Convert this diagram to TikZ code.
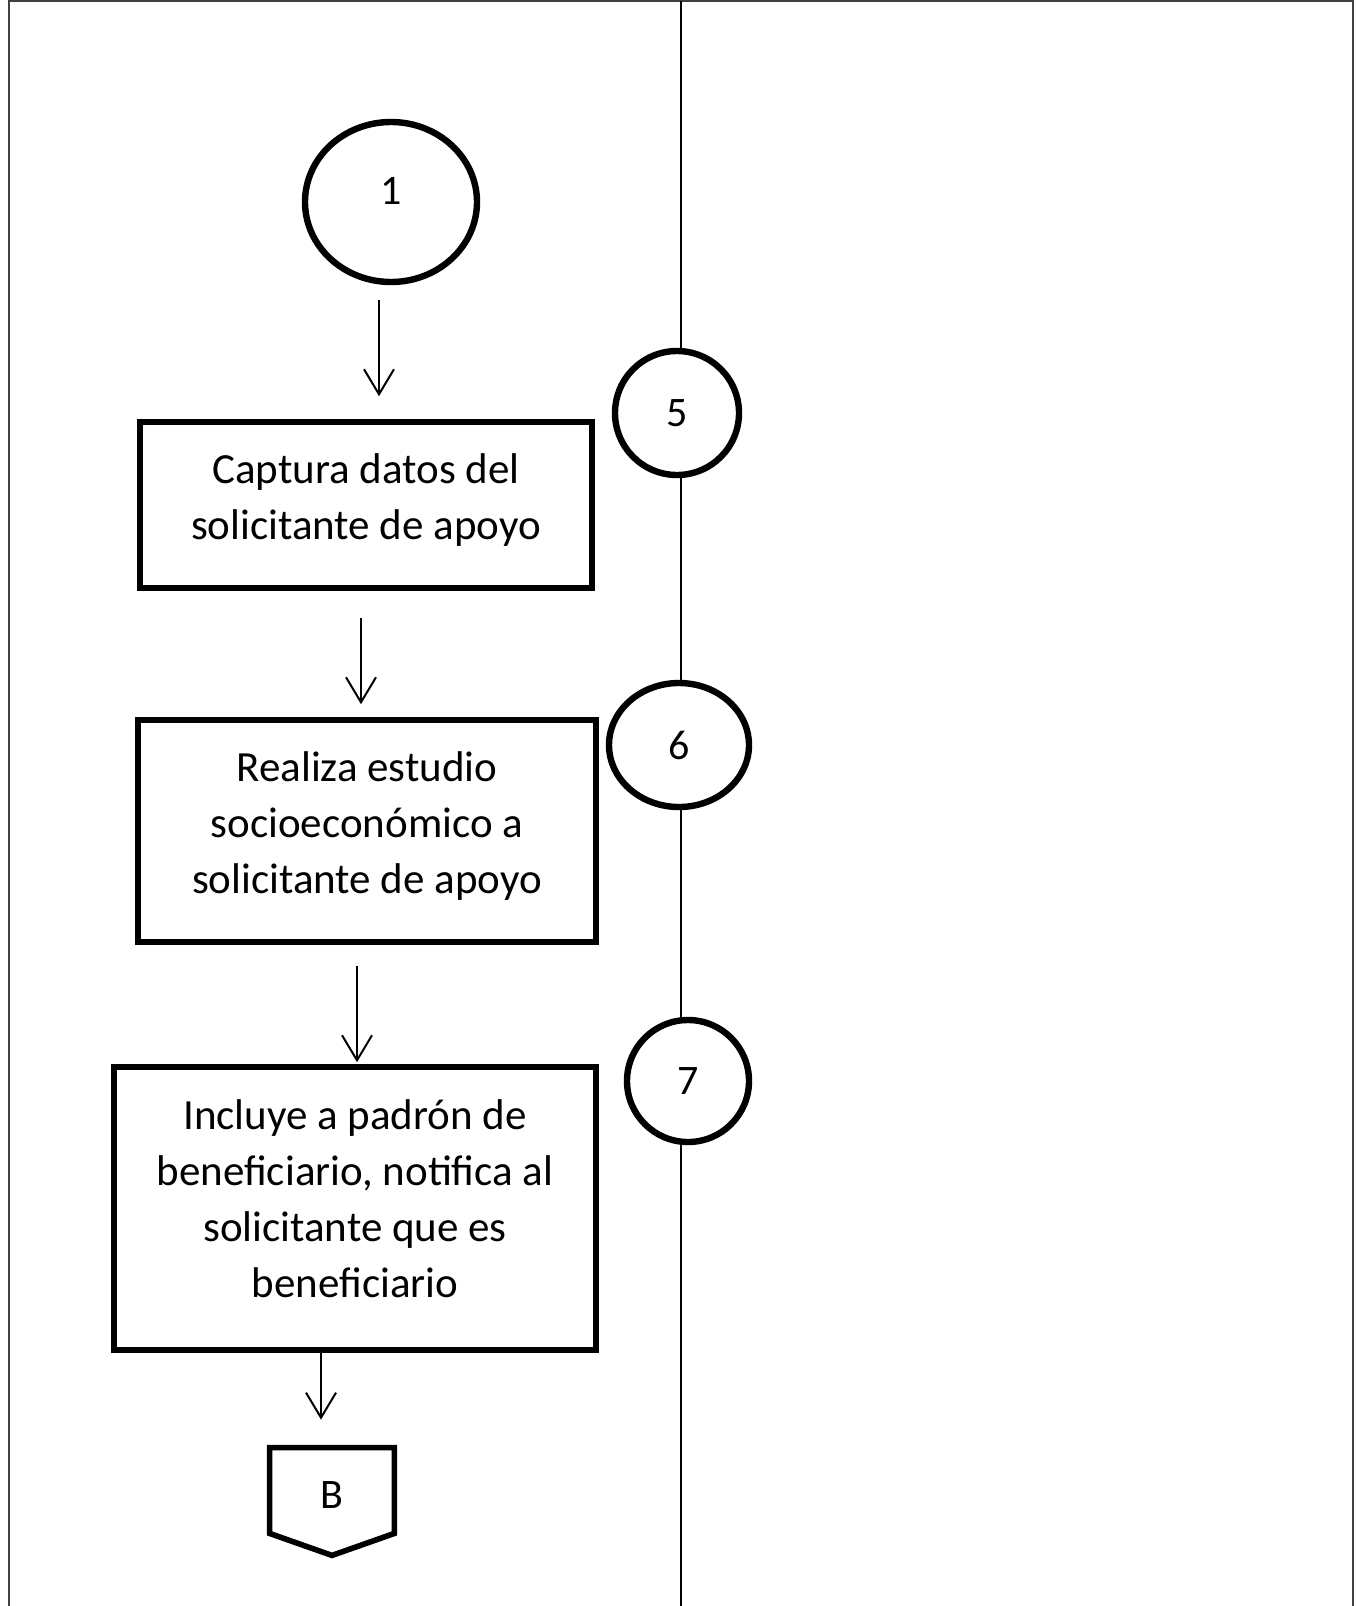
\documentclass[tikz,border=0pt]{standalone}
\usepackage{fontspec}
\setmainfont{Carlito}
\usetikzlibrary{arrows.meta,shapes.geometric}
\begin{document}
\begin{tikzpicture}[x=0.5pt,y=-0.5pt,
  box/.style={draw, line width=2.8pt, inner sep=0pt},
  boxtext/.style={align=center, inner sep=0pt,
    font=\fontsize{21.5}{28}\selectfont},
  conn/.style={draw, fill=white, line width=3.2pt, inner sep=0pt,
    font=\fontsize{21}{24}\selectfont},
  conntext/.style={inner sep=0pt, font=\fontsize{21}{24}\selectfont},
  arr/.style={line width=1pt, -{Straight Barb[length=12.5pt,width=15pt,line width=1pt]}},
  frame/.style={line width=1.2pt, draw=black!75}]
\useasboundingbox (0,0) rectangle (1356,1606);
% frame and lane divider
\draw[frame] (9,1606) -- (9,1) -- (1353,1) -- (1353,1606);
\draw[line width=0.8pt] (681,1) -- (681,1606);
% start connector
\node[conn, ellipse, minimum width=86pt, minimum height=80pt,
  label={[conntext, yshift=5.5pt]center:1}] (c1) at (391,202) {};
% process boxes
\node[box, minimum width=226pt, minimum height=83pt,
  label={[boxtext, yshift=2.5pt]center:{Captura datos del\\solicitante de apoyo}}]
  (box1) at (366,505) {};
\node[box, minimum width=229pt, minimum height=111pt,
  label={[boxtext, yshift=2.5pt]center:{Realiza estudio\\socioecon\'omico a\\solicitante de apoyo}}]
  (box2) at (367,831) {};
\node[box, minimum width=241pt, minimum height=141.5pt,
  label={[boxtext, yshift=5pt]center:{Incluye a padr\'on de\\beneficiario, notifica al\\solicitante que es\\beneficiario}}]
  (box3) at (355,1208.5) {};
% step numbers on the divider
\node[conn, circle, minimum size=62pt] (n5) at (677,413) {5};
\node[conn, ellipse, minimum width=70pt, minimum height=62pt] (n6) at (679,745) {6};
\node[conn, circle, minimum size=61pt] (n7) at (688,1081) {7};
% off-page connector B
\node[inner sep=0pt, minimum width=62pt, minimum height=42.5pt,
  label={[conntext, yshift=-2.5pt]center:B}] (B) at (332,1490.5) {};
\draw[line width=2.8pt, line join=miter]
  (B.north west) -- (B.north east) -- (B.south east)
  -- ([yshift=-11pt]B.south) -- (B.south west) -- cycle;
% connectors
\draw[arr] ([shift={(-12,15)}]c1.south) -- ([shift={(13,-23)}]box1.north);
\draw[arr] ([shift={(-5,27)}]box1.south) -- ([shift={(-6,-13)}]box2.north);
\draw[arr] ([shift={(-10,21)}]box2.south) -- ([shift={(2,-2)}]box3.north);
\draw[arr] ([shift={(-34,0)}]box3.south) -- ([shift={(-11,-28)}]B.north);
\end{tikzpicture}
\end{document}
